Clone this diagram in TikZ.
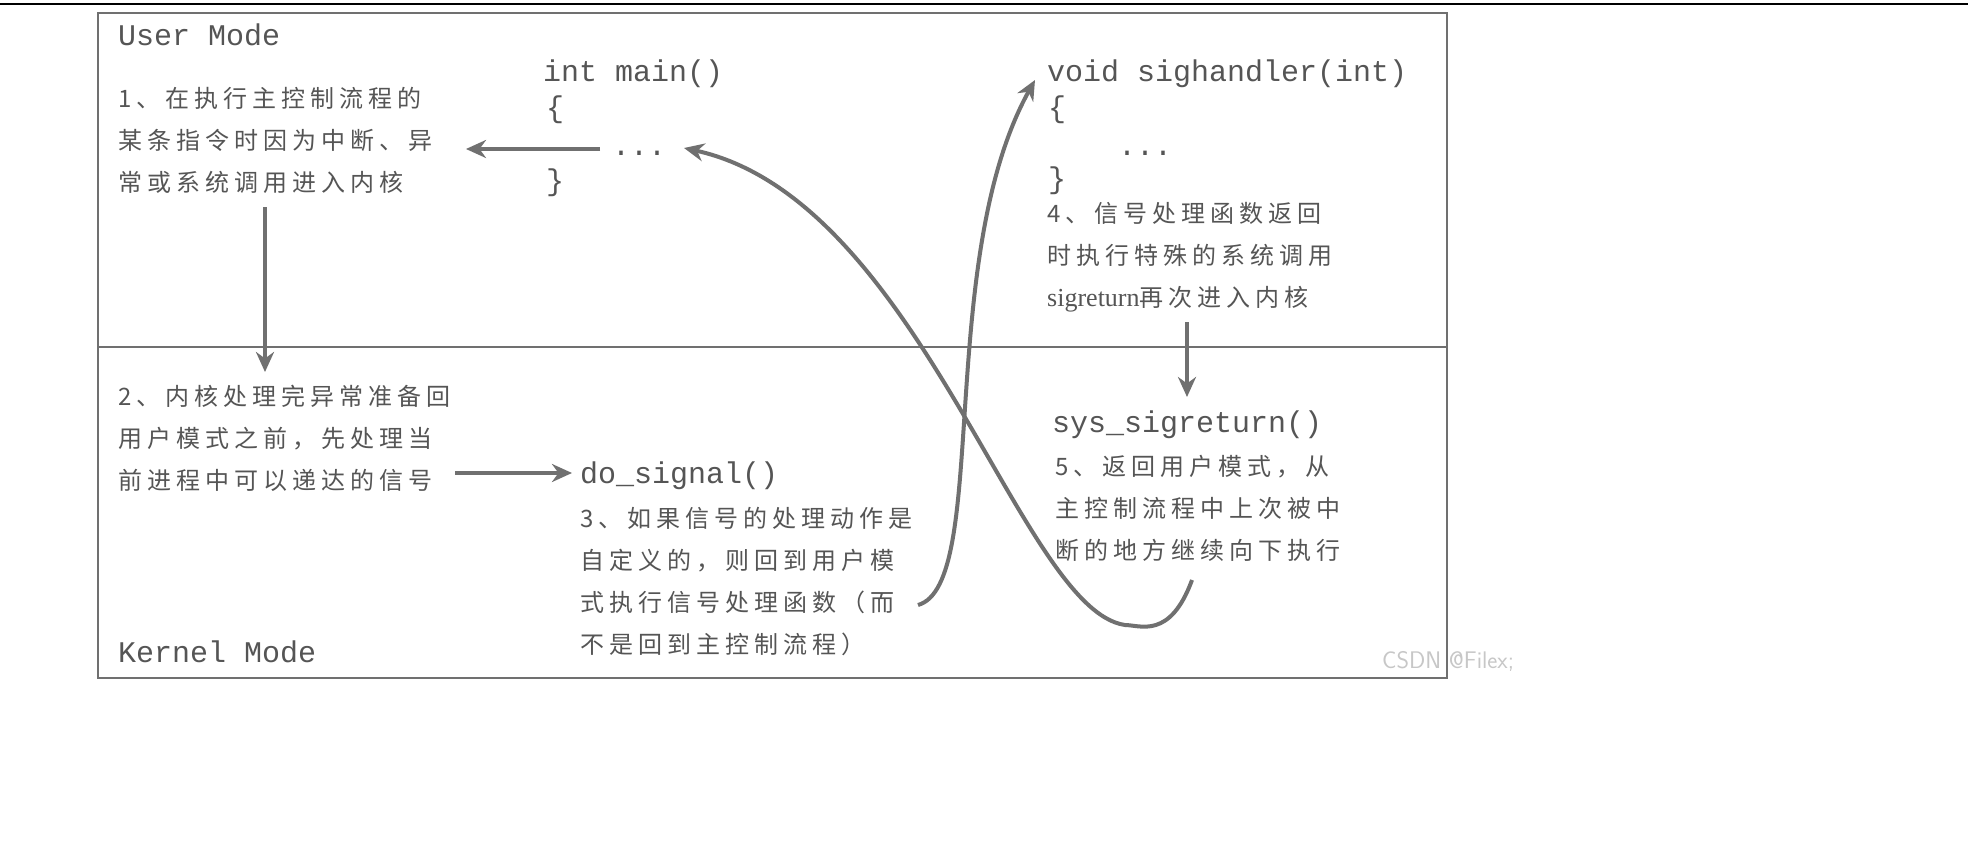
\documentclass[tikz,border=0pt]{standalone}
\usepackage{fontspec}
\setmonofont{Liberation Mono}
\newfontfamily\cjk[LetterSpace=21]{Noto Sans CJK SC}
\newfontfamily\lat{Liberation Serif}
\usetikzlibrary{arrows.meta}
\definecolor{ln}{HTML}{707070}
\definecolor{tx}{HTML}{555555}
\tikzset{
 code/.style={anchor=base west,inner sep=0,text=tx,font=\ttfamily\fontsize{30}{30}\selectfont},
 zh/.style={anchor=north west,inner sep=0,text=tx,align=left,font=\cjk\fontsize{24}{42}\selectfont},
 arr/.style={draw=ln,line width=4pt,-{Stealth[length=20pt,width=18pt]}},
}
\begin{document}
\begin{tikzpicture}[x=1pt,y=-1pt]
\useasboundingbox (0,0) rectangle (1968,864);
\fill[white] (0,0) rectangle (1968,864);
\draw[line width=2pt] (0,4) -- (1968,4);
\draw[draw=ln,line width=2.5pt] (98,13) rectangle (1447,678);
\draw[draw=ln,line width=2.5pt] (98,347) -- (1447,347);
\node[code] (um) at (118,46) {User Mode};
\node[code] (km) at (118,662) {Kernel Mode};
\node[code] (m1) at (543,82) {int main()};
\node[code] (m2) at (546,118) {\{};
\node[code] (m3) at (612,156) {...};
\node[code] (m4) at (546,190) {\}};
\node[code] (s1) at (1047,82) {void sighandler(int)};
\node[code] (s2) at (1048,118) {\{};
\node[code] (s3) at (1118,156) {...};
\node[code] (s4) at (1048,188) {\}};
\node[code] (ds) at (580,483) {do\_signal()};
\node[code] (sr) at (1052,432) {sys\_sigreturn()};
\node[zh] (t1) at (118,87) {1、在执行主控制流程的\\某条指令时因为中断、异\\常或系统调用进入内核};
\node[zh] (t2) at (118,385) {2、内核处理完异常准备回\\用户模式之前，先处理当\\前进程中可以递达的信号};
\node[zh] (t3) at (580,507) {3、如果信号的处理动作是\\自定义的，则回到用户模\\式执行信号处理函数（而\\不是回到主控制流程）};
\node[zh] (t4) at (1047,202) {4、信号处理函数返回\\时执行特殊的系统调用\\{\lat\addfontfeatures{LetterSpace=0}\fontsize{26}{42}\selectfont sigreturn}再次进入内核};
\node[zh] (t5) at (1055,455) {5、返回用户模式，从\\主控制流程中上次被中\\断的地方继续向下执行};
\node[anchor=base west,inner sep=0,text=black!22,font=\sffamily\fontsize{24}{24}\selectfont] (wm) at (1382,668) {CSDN @Filex;};
\coordinate (a1s) at (600,149); \coordinate (a1e) at (466,149);
\draw[arr] (a1s) -- (a1e);
\coordinate (a2s) at (265,207); \coordinate (a2e) at (265,372);
\draw[arr] (a2s) -- (a2e);
\coordinate (a3s) at (455,473); \coordinate (a3e) at (572,473);
\draw[arr] (a3s) -- (a3e);
\coordinate (a4s) at (1187,322); \coordinate (a4e) at (1187,397);
\draw[arr] (a4s) -- (a4e);
\coordinate (c1s) at (918,605); \coordinate (c1e) at (1035,80);
\draw[arr] (c1s) .. controls (990,585) and (935,260) .. (c1e);
\coordinate (c2s) at (1192,580); \coordinate (c2m) at (1125,625); \coordinate (c2e) at (684,148);
\draw[arr] (c2s) .. controls (1170,640) and (1140,625) .. (c2m) .. controls (1020,610) and (920,200) .. (c2e);
\end{tikzpicture}
\end{document}
